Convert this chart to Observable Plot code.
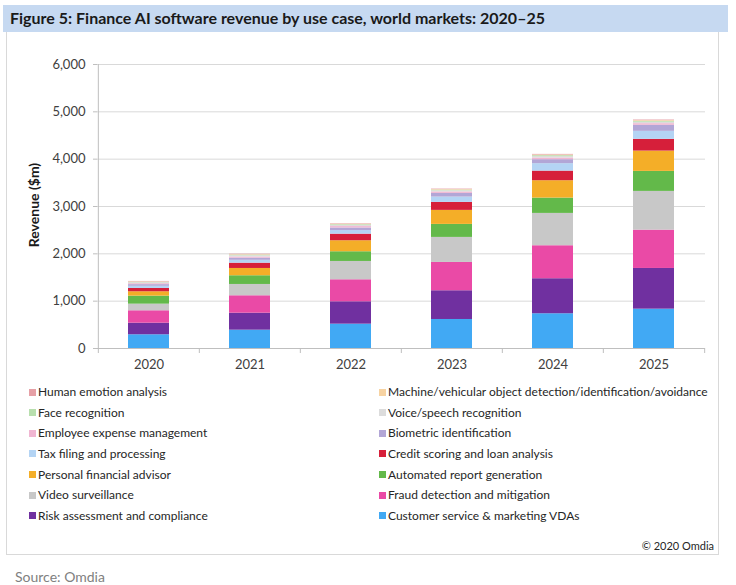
<!DOCTYPE html>
<html>
<head>
<meta charset="utf-8">
<script src="https://cdn.jsdelivr.net/npm/d3@7"></script>
<script src="https://cdn.jsdelivr.net/npm/@observablehq/plot@0.6"></script>
<style>
  html, body { margin: 0; padding: 0; background: #fff; }
  body { width: 736px; height: 585px; position: relative; font-family: Lato, "Open Sans", sans-serif; color: #262626; overflow: hidden; }
  #titlebar { position: absolute; left: 3px; top: 5px; width: 725px; height: 27px; background: #c6d9f1; }
  #title { position: absolute; left: 7px; top: 3px; font-weight: bold; font-size: 16px; color: #1a1a1a; white-space: nowrap; }
  #box { position: absolute; left: 6px; top: 32px; width: 711px; height: 522px; border: 1px solid #d9d9d9; border-top: none; }
  #chart { position: absolute; left: 0; top: 40px; }
  #ylabel { position: absolute; left: 33px; top: 205px; transform: translate(-50%, -50%) rotate(-90deg); font-weight: bold; font-size: 14px; white-space: nowrap; color: #1a1a1a; }
  .leg { position: absolute; font-size: 12px; white-space: nowrap; color: #262626; }
  .sw { position: absolute; width: 7px; height: 7px; }
  #copy { position: absolute; right: 22px; top: 539px; font-size: 11px; color: #262626; }
  #source { position: absolute; left: 15px; top: 568px; font-size: 14px; color: #808080; }
</style>
</head>
<body>
<div id="titlebar"><div id="title">Figure 5: Finance AI software revenue by use case, world markets: 2020–25</div></div>
<div id="box"></div>
<div id="chart"></div>
<div id="ylabel">Revenue ($m)</div>
<div id="legend"></div>
<div id="copy">© 2020 Omdia</div>
<div id="source">Source: Omdia</div>
<script>
const years = ["2020", "2021", "2022", "2023", "2024", "2025"];
const yTicks = [0, 1000, 2000, 3000, 4000, 5000, 6000];

// series, bottom to top of each stack
const seriesNames = [
  "Customer service & marketing VDAs",
  "Risk assessment and compliance",
  "Fraud detection and mitigation",
  "Video surveillance",
  "Automated report generation",
  "Personal financial advisor",
  "Credit scoring and loan analysis",
  "Tax filing and processing",
  "Biometric identification",
  "Employee expense management",
  "Voice/speech recognition",
  "Face recognition",
  "Machine/vehicular object detection/identification/avoidance",
  "Human emotion analysis"
];
const seriesColors = [
  "#41a9f4", "#7030a0", "#ea4aa6", "#c8c8c8", "#63b94a", "#f4ae28", "#d61f3a",
  "#b4d4f4", "#b2a6d6", "#f0b6d2", "#dcdcdc", "#b8dfae", "#f7d3a2", "#e6a0a6"
];

const customerService = [290, 387, 514, 613, 734, 831];
const riskAssessment  = [245, 359, 473, 607, 740, 860];
const fraudDetection  = [262, 368, 465, 598, 697, 810];
const videoSurveillance = [140, 239, 387, 529, 683, 818];
const automatedReport = [169, 184, 205, 275, 324, 423];
const personalAdvisor = [93, 154, 233, 296, 367, 429];
const creditScoring   = [70, 112, 139, 169, 203, 248];
const taxFiling       = [45, 60, 75, 112, 157, 169];
const biometricId     = [35, 45, 55, 78, 84, 127];
const employeeExpense = [20, 25, 30, 30, 35, 35];
const voiceSpeech     = [20, 25, 25, 25, 30, 30];
const faceRecognition = [10, 15, 15, 15, 20, 20];
const machineVehicular = [8, 10, 10, 11, 14, 14];
const humanEmotion    = [10, 10, 10, 10, 13, 13];

const seriesValues = [
  customerService, riskAssessment, fraudDetection, videoSurveillance, automatedReport,
  personalAdvisor, creditScoring, taxFiling, biometricId, employeeExpense,
  voiceSpeech, faceRecognition, machineVehicular, humanEmotion
];

const data = [];
seriesNames.forEach((s, i) => {
  years.forEach((y, j) => data.push({year: y, series: s, value: seriesValues[i][j]}));
});

const W = 736, H = 336;
const mL = 97, mR = 31, mT = 24, mB = 28;
const step = (W - mL - mR) / years.length;
const pInner = 0.595;

const chart = Plot.plot({
  width: W,
  height: H,
  marginLeft: mL,
  marginRight: mR,
  marginTop: mT,
  marginBottom: mB,
  style: {fontFamily: "Lato, sans-serif", fontSize: "13px", color: "#404040", background: "transparent", overflow: "visible"},
  x: {domain: years, paddingInner: pInner, paddingOuter: pInner / 2, label: null},
  y: {domain: [0, 6000], label: null},
  color: {domain: seriesNames, range: seriesColors},
  marks: [
    Plot.gridY(yTicks, {stroke: "#d9d9d9", strokeOpacity: 1}),
    Plot.axisY(yTicks, {tickFormat: d3.format(","), tickSize: 4, tickPadding: 8, stroke: "#bfbfbf", fill: "#404040", label: null}),
    Plot.axisX({tickSize: 0, tickPadding: 11, fill: "#404040", label: null}),
    Plot.barY(data, {x: "year", y: "value", fill: "series"}),
    Plot.ruleY([0], {stroke: "#bfbfbf"}),
    Plot.ruleX(years.slice(0, 1), {x: d => d, dx: -step / 2, y1: 0, y2: 6000, stroke: "#bfbfbf"}),
    Plot.ruleX(years, {x: d => d, dx: -step / 2, y1: 0, y2: 0, insetBottom: -5, stroke: "#bfbfbf"}),
    Plot.ruleX(years.slice(-1), {x: d => d, dx: step / 2, y1: 0, y2: 0, insetBottom: -5, stroke: "#bfbfbf"})
  ]
});
document.getElementById("chart").appendChild(chart);

// legend: two columns, rows read left then right (top of stack first)
const legendOrder = seriesNames.slice().reverse();
const legend = document.getElementById("legend");
legendOrder.forEach((name, k) => {
  const row = Math.floor(k / 2), col = k % 2;
  const idx = seriesNames.indexOf(name);
  const yc = 392 + row * 20.65;
  const xs = col === 0 ? 29 : 379;
  const sw = document.createElement("div");
  sw.className = "sw";
  sw.style.left = xs + "px";
  sw.style.top = (yc - 3.5) + "px";
  sw.style.background = seriesColors[idx];
  legend.appendChild(sw);
  const t = document.createElement("div");
  t.className = "leg";
  t.style.left = (xs + 9) + "px";
  t.style.top = (yc - 8) + "px";
  t.textContent = name;
  legend.appendChild(t);
});
</script>
</body>
</html>
